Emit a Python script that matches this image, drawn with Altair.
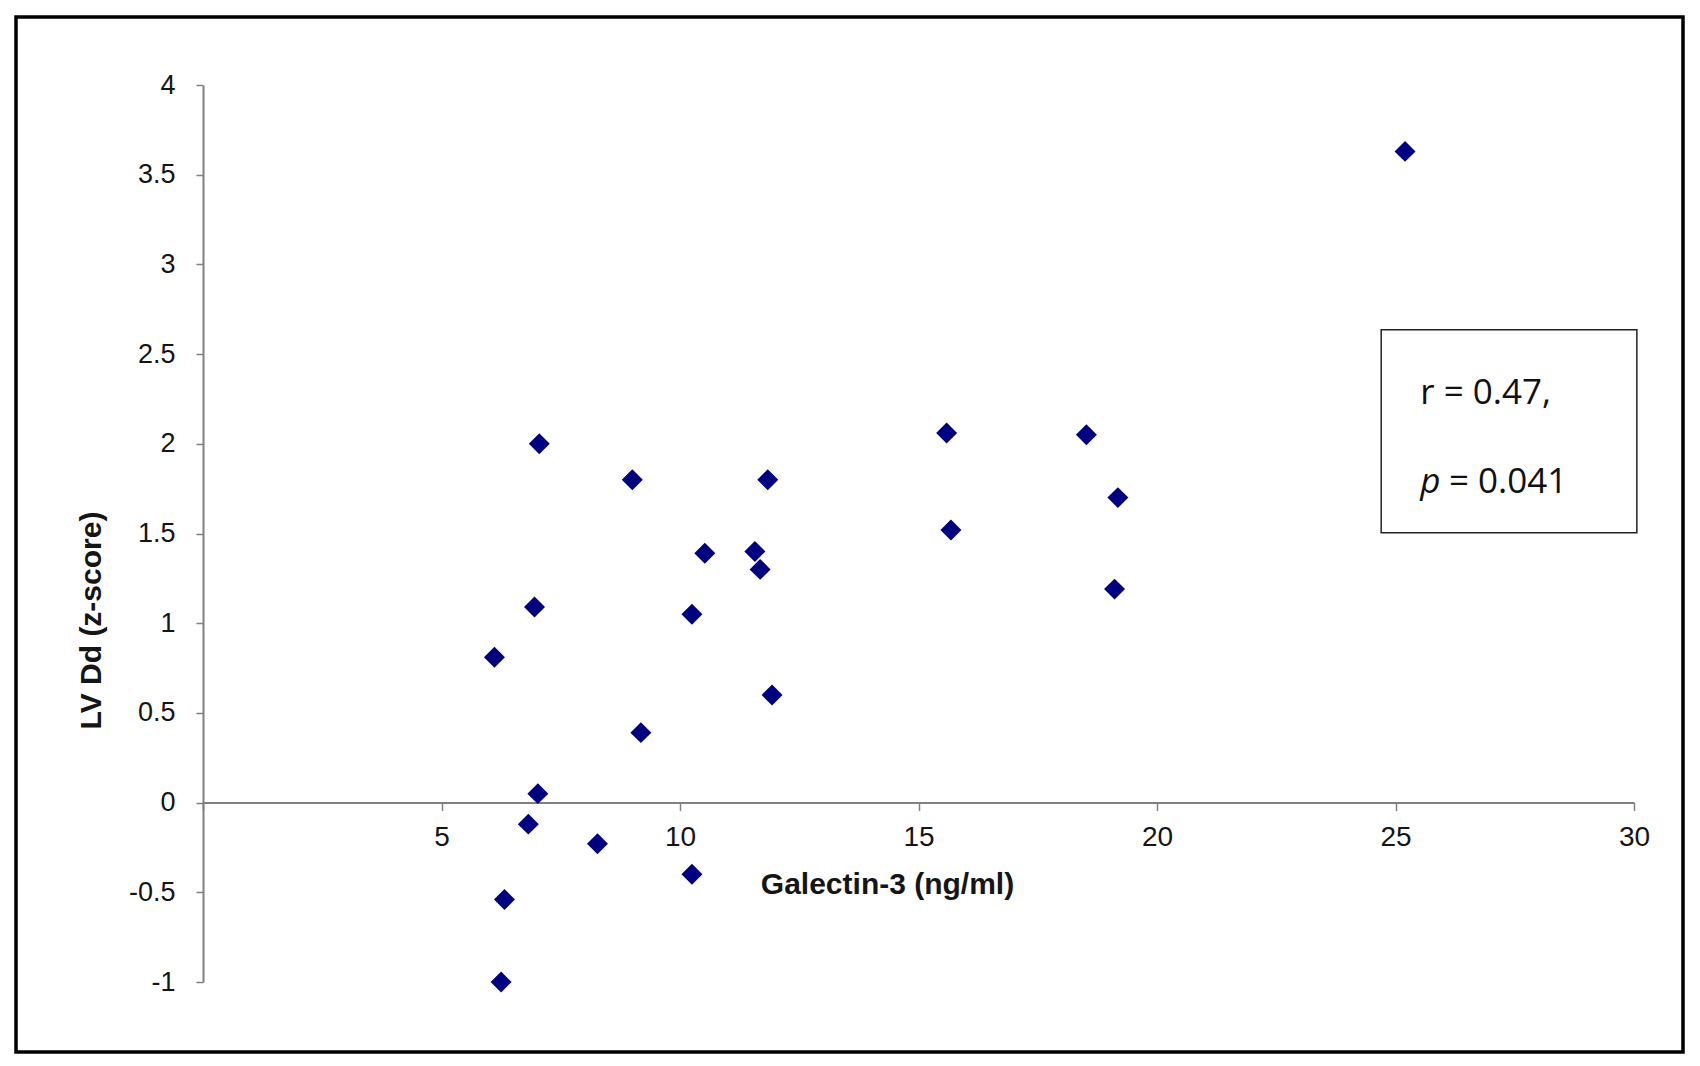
import altair as alt
import pandas as pd

# Data
galectin = [25.2, 7.05, 9.0, 11.84, 15.59, 18.52, 19.18, 15.68, 10.52, 11.57, 11.68,
            19.11, 6.95, 10.25, 6.11, 11.93, 9.18, 7.02, 6.82, 8.27, 10.25, 6.32, 6.25]
lv_dd = [3.63, 2.0, 1.80, 1.80, 2.06, 2.05, 1.70, 1.52, 1.39, 1.40, 1.30,
         1.19, 1.09, 1.05, 0.81, 0.60, 0.39, 0.05, -0.12, -0.23, -0.40, -0.54, -1.0]

x_ticks = [0, 5, 10, 15, 20, 25, 30]
y_ticks = [-1, -0.5, 0, 0.5, 1, 1.5, 2, 2.5, 3, 3.5, 4]

x_title = "Galectin-3 (ng/ml)"
y_title = "LV Dd (z-score)"

stat_r = "r = 0.47,"
stat_p_letter = "p"
stat_p_value = "= 0.041"

df = pd.DataFrame({"galectin": galectin, "lvdd": lv_dd})

W, H = 1431, 897
AX = "#808080"
TXT = "#151515"

xscale = alt.Scale(domain=[0, 30], nice=False, zero=False)
yscale = alt.Scale(domain=[-1, 4], nice=False, zero=False)

x_axis = alt.Axis(
    values=x_ticks,
    labelExpr="datum.value == 0 ? '' : datum.value + ''",
    offset=-H / 5.0,
    grid=False,
    domainColor=AX, domainWidth=2,
    tickColor=AX, tickWidth=1.5, tickSize=8,
    labelFont="Liberation Sans", labelFontSize=28, labelColor=TXT,
    labelPadding=13, labelFlush=False, labelOverlap=False,
    titleFont="Liberation Sans", titleFontSize=30,
    titleFontWeight="bold", titleColor=TXT,
    titleX=684, titleY=91, titleBaseline="alphabetic", titleAlign="center",
)
y_axis = alt.Axis(
    values=y_ticks,
    labelExpr="datum.value + ''",
    grid=False,
    domainColor=AX, domainWidth=2,
    tickColor=AX, tickWidth=1.5, tickSize=7,
    labelFont="Liberation Sans", labelFontSize=27, labelColor=TXT,
    labelPadding=21, labelFlush=False, labelOverlap=False,
    titleFont="Liberation Sans", titleFontSize=30,
    titleFontWeight="bold", titleColor=TXT,
    titleX=-103, titleY=535, titleBaseline="alphabetic", titleAlign="center",
    titleAngle=270,
)

points = alt.Chart(df).mark_point(
    shape="diamond", filled=True, size=440, color="#000080", opacity=1
).encode(
    x=alt.X("galectin:Q", scale=xscale, axis=x_axis, title=x_title),
    y=alt.Y("lvdd:Q", scale=yscale, axis=y_axis, title=y_title),
)

box_df = pd.DataFrame({"galectin": [24.70], "galectin2": [30.06],
                       "lvdd": [2.636], "lvdd2": [1.504]})
box = alt.Chart(box_df).mark_rect(fill="white", stroke="#222222", strokeWidth=1.5).encode(
    x=alt.X("galectin:Q", scale=xscale, title=x_title),
    x2="galectin2:Q",
    y=alt.Y("lvdd:Q", scale=yscale, title=y_title),
    y2="lvdd2:Q",
)

ann_df = pd.DataFrame({
    "galectin": [25.52, 25.52, 26.12],
    "lvdd": [2.224, 1.727, 1.727],
    "label": [stat_r, stat_p_letter, stat_p_value],
    "style": ["normal", "italic", "normal"],
})
ann_normal = alt.Chart(ann_df).transform_filter("datum.style == 'normal'").mark_text(
    align="left", baseline="alphabetic", font="Open Sans", fontSize=35, color="#111111"
).encode(
    x=alt.X("galectin:Q", scale=xscale, title=x_title),
    y=alt.Y("lvdd:Q", scale=yscale, title=y_title),
    text="label:N",
)
ann_italic = alt.Chart(ann_df).transform_filter("datum.style == 'italic'").mark_text(
    align="left", baseline="alphabetic", font="Open Sans", fontSize=35,
    fontStyle="italic", color="#111111"
).encode(
    x=alt.X("galectin:Q", scale=xscale, title=x_title),
    y=alt.Y("lvdd:Q", scale=yscale, title=y_title),
    text="label:N",
)

frame = alt.Chart(pd.DataFrame({"k": [0]})).mark_rect(
    fill="transparent", stroke="black", strokeWidth=3.5
).encode(
    x=alt.value(-187), x2=alt.value(1480),
    y=alt.value(-68), y2=alt.value(967),
)

chart = alt.layer(points, box, ann_normal, ann_italic, frame).properties(
    width=W, height=H,
    padding={"left": 195, "top": 77, "right": 58, "bottom": 76},
    autosize=alt.AutoSizeParams(type="none"),
    background="white",
).configure_view(strokeWidth=0)

chart.save("out.html", embed_options={"renderer": "svg", "actions": False})
